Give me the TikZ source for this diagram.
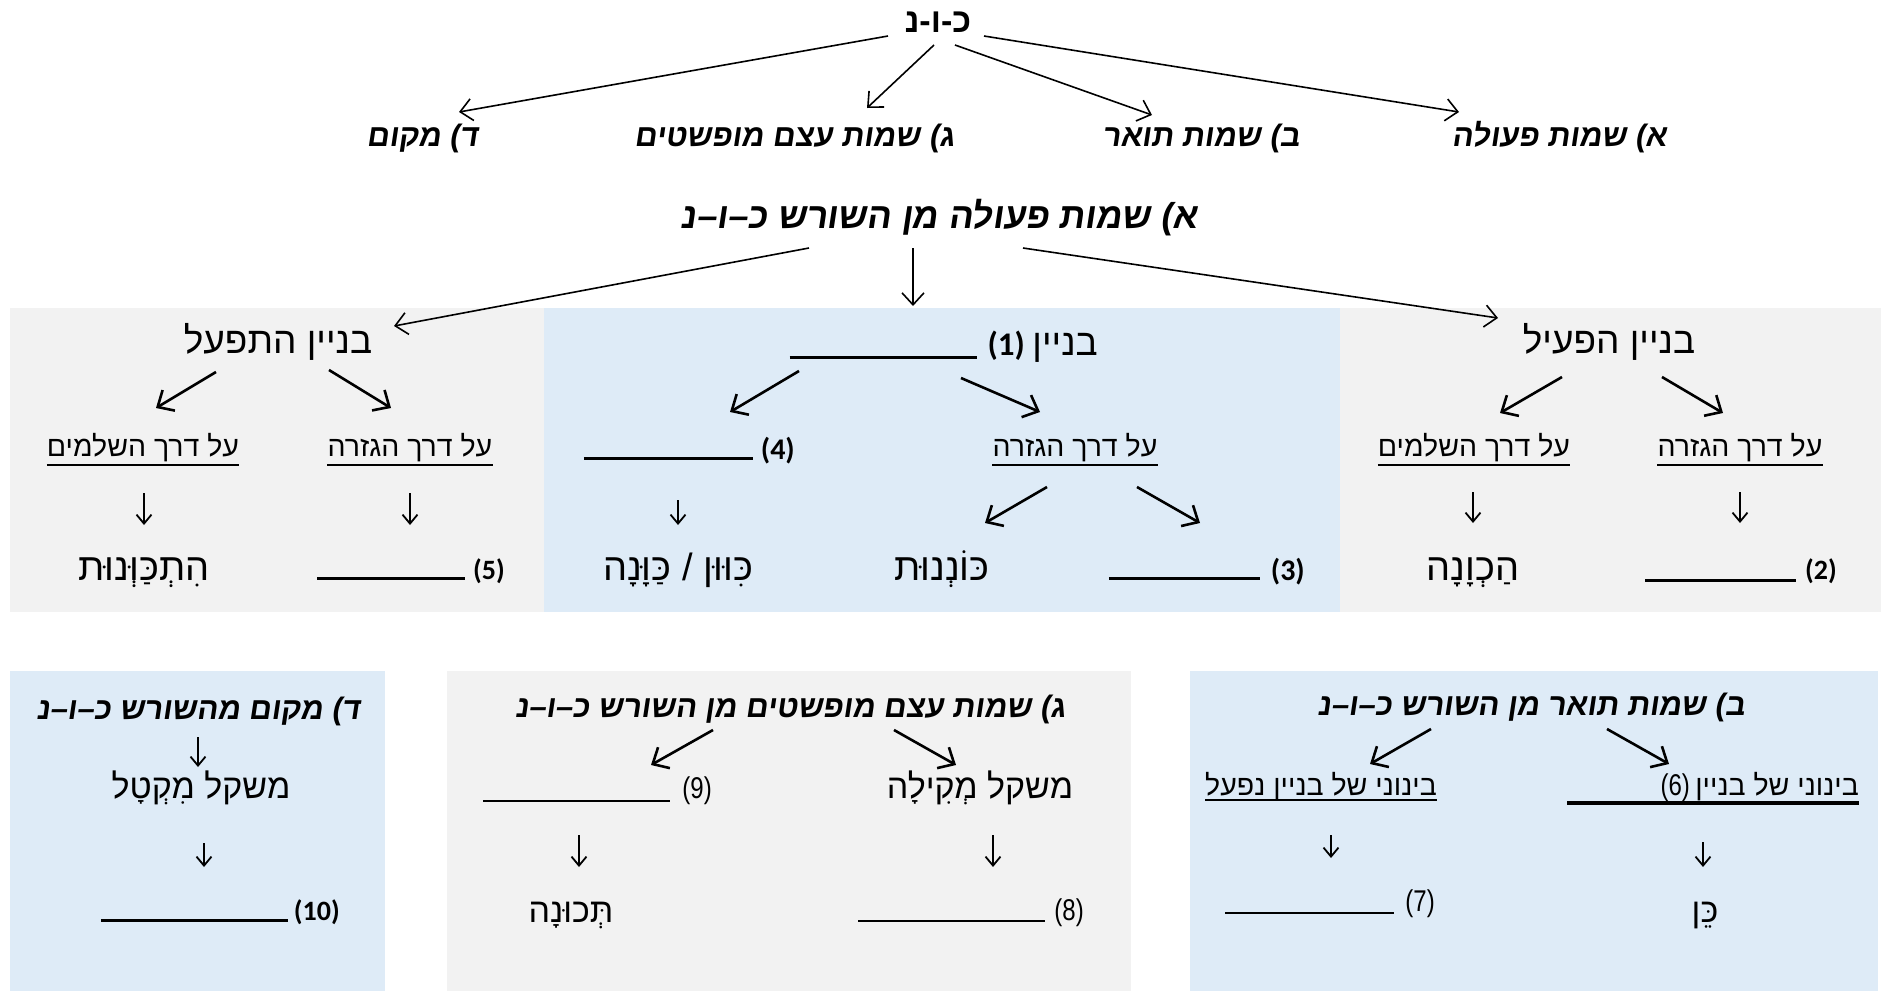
\documentclass[tikz,border=0pt]{standalone}
\usepackage{fontspec}
\usetikzlibrary{arrows.meta,calc}
\TeXXeTstate=1
\newfontfamily\heb[Script=Hebrew]{Liberation Sans}
\newfontfamily\curs[Script=Hebrew,FakeSlant=0.15]{Liberation Sans}
\newfontfamily\numf{Carlito}
\newfontfamily\narf[FakeStretch=0.8]{Liberation Sans}
\newcommand\rtl[1]{\beginR #1\endR}
\definecolor{pgray}{HTML}{F2F2F2}
\definecolor{pblue}{HTML}{DEEBF7}
\tikzset{
  txt/.style={inner sep=0pt, anchor=base, font=\heb\fontsize{28.5}{34}\selectfont},
  big/.style={txt, font=\heb\fontsize{34}{40}\selectfont},
  res/.style={txt, font=\heb\fontsize{38}{44}\selectfont},
  head/.style={txt, font=\heb\fontsize{37}{44}\selectfont},
  cur/.style={inner sep=0pt, anchor=base, font=\curs\bfseries\fontsize{31}{36}\selectfont},
  num/.style={inner sep=0pt, anchor=base east, font=\numf\bfseries\fontsize{28}{32}\selectfont},
  nnum/.style={inner sep=0pt, anchor=base east, font=\narf\fontsize{30}{34}\selectfont},
  topar/.style={line width=1.6pt, -{Straight Barb[length=12pt,width=22pt,line width=1.6pt]}},
  midar/.style={line width=2.6pt, -{Straight Barb[length=13pt,width=24pt,line width=2.6pt]}},
  dn/.style={line width=1.8pt, -{Straight Barb[length=9pt,width=15pt,line width=1.8pt]}},
  ul/.style={line width=2pt}
}
\begin{document}
\begin{tikzpicture}[x=1pt,y=-1pt]
\useasboundingbox (0,0) rectangle (1881,991);
\fill[white] (0,0) rectangle (1881,991);
% panels
\fill[pgray] (10,308) rectangle (544,612);
\fill[pblue] (544,308) rectangle (1340,612);
\fill[pgray] (1340,308) rectangle (1881,612);
\fill[pblue] (10,671) rectangle (385,991);
\fill[pgray] (447,671) rectangle (1131,991);
\fill[pblue] (1190,671) rectangle (1878,991);

% top level
\node[txt, font=\heb\bfseries\fontsize{34}{40}\selectfont] (root) at (938,32) {\rtl{כ-ו-נ}};
\node[cur] (ta) at (1559,146) {\rtl{א) שמות פעולה}};
\node[cur] (tb) at (1201,146) {\rtl{ב) שמות תואר}};
\node[cur] (tc) at (794,146) {\rtl{ג) שמות עצם מופשטים}};
\node[cur] (td) at (422,146) {\rtl{ד) מקום}};
\draw[topar] ($(root.base)+(-50,4)$) -- ($(td.base)+(37,-34)$);
\draw[topar] ($(root.base)+(-4,13)$) -- ($(tc.base)+(73,-38)$);
\draw[topar] ($(root.base)+(17,13)$) -- ($(tb.base)+(-49,-31)$);
\draw[topar] ($(root.base)+(46,4)$) -- ($(ta.base)+(-100,-34)$);

% second title
\node[cur, font=\curs\bfseries\fontsize{36}{40}\selectfont] (pt) at (939,228) {\rtl{א) שמות פעולה מן השורש כ–ו–נ}};

% left panel
\node[head] (lt) at (278,353) {\rtl{בניין התפעל}};
\node[txt] (l1) at (143,456) {\rtl{על דרך השלמים}};
\node[txt] (l2) at (410,456) {\rtl{על דרך הגזרה}};
\draw[ul] ($(l1.base west)+(0,9)$) -- ($(l1.base east)+(0,9)$);
\draw[ul] ($(l2.base west)+(0,9)$) -- ($(l2.base east)+(0,9)$);
\draw[midar] ($(lt.base)+(-62,19)$) -- ($(l1.base)+(13,-48)$);
\draw[midar] ($(lt.base)+(51,17)$) -- ($(l2.base)+(-19,-48)$);
\node[res] (l1r) at (144,580) {\rtl{הִתְכַּוְּנוּת}};
\node[num] (l2r) at (505,579) {\rule[-1pt]{148pt}{3pt}\hspace{8pt}(5)};
\draw[dn] ($(l1r.base)+(0,-87)$) -- ($(l1r.base)+(0,-55)$);
\draw[dn] ($(l2.base)+(0,37)$) -- ($(l2.base)+(0,69)$);

% middle panel
\node[head, anchor=base east] (mt) at (1098,355) {\rtl{בניין}};
\node[num, font=\numf\bfseries\fontsize{33}{36}\selectfont] (m1) at (1025,355) {\rule[-4pt]{187pt}{3pt}\hspace{11pt}(1)};
\node[num, font=\numf\bfseries\fontsize{30}{34}\selectfont] (m4) at (795,459) {\rule[-1pt]{169pt}{3pt}\hspace{8pt}(4)};
\node[txt] (m2) at (1075,456) {\rtl{על דרך הגזרה}};
\draw[ul] ($(m2.base west)+(0,9)$) -- ($(m2.base east)+(0,9)$);
\draw[midar] ($(m1.base east)+(-226,16)$) -- ($(m4.base east)+(-65,-47)$);
\draw[midar] ($(m1.base east)+(-64,23)$) -- ($(m2.base)+(-35,-44)$);
\node[res] (m4r) at (678,580) {\rtl{כִּוּוּן / כַּוָּנָה}};
\node[res] (m3a) at (942,580) {\rtl{כּוֹנְנוּת}};
\node[num, font=\numf\bfseries\fontsize{30}{34}\selectfont] (m3b) at (1305,580) {\rule[0pt]{151pt}{3pt}\hspace{11pt}(3)};
\draw[midar] ($(m2.base)+(-28,31)$) -- ($(m3a.base)+(43,-57)$);
\draw[midar] ($(m2.base)+(62,31)$) -- ($(m3b.base east)+(-105,-57)$);
\draw[dn] ($(m4r.base)+(0,-80)$) -- ($(m4r.base)+(0,-55)$);

% right panel
\node[head] (rt) at (1609,353) {\rtl{בניין הפעיל}};
\node[txt] (r1) at (1474,456) {\rtl{על דרך השלמים}};
\node[txt] (r2) at (1740,456) {\rtl{על דרך הגזרה}};
\draw[ul] ($(r1.base west)+(0,9)$) -- ($(r1.base east)+(0,9)$);
\draw[ul] ($(r2.base west)+(0,9)$) -- ($(r2.base east)+(0,9)$);
\draw[midar] ($(rt.base)+(-47,24)$) -- ($(r1.base)+(26,-43)$);
\draw[midar] ($(rt.base)+(53,24)$) -- ($(r2.base)+(-17,-43)$);
\node[res] (r1r) at (1473,580) {\rtl{הַכְוָנָה}};
\node[num] (r2r) at (1837,579) {\rule[-3pt]{151pt}{3pt}\hspace{9pt}(2)};
\draw[dn] ($(r1r.base)+(0,-88)$) -- ($(r1r.base)+(0,-57)$);
\draw[dn] ($(r2.base)+(0,36)$) -- ($(r2.base)+(0,67)$);

% arrows from second title
\draw[topar] ($(pt.base)+(-130,20)$) -- ($(lt.base)+(116,-27)$);
\draw[topar] ($(pt.base)+(-26,20)$) -- ($(pt.base)+(-26,78)$);
\draw[topar] ($(pt.base)+(84,20)$) -- ($(rt.base)+(-111,-35)$);

% bottom left
\node[cur] (bd) at (198,719) {\rtl{ד) מקום מהשורש כ–ו–נ}};
\node[big] (bd1) at (201,798) {\rtl{משקל מִקְטָל}};
\node[num] (bd2) at (340,920) {\rule[-2pt]{187pt}{3pt}\hspace{6pt}(10)};
\draw[dn] ($(bd.base)+(0,18)$) -- ($(bd.base)+(0,48)$);
\draw[dn] ($(bd1.base)+(3,45)$) -- ($(bd1.base)+(3,69)$);

% bottom middle
\node[cur] (bc) at (790,717) {\rtl{ג) שמות עצם מופשטים מן השורש כ–ו–נ}};
\node[nnum] (bc1) at (712,798) {\rule[-4pt]{187pt}{2.5pt}\hspace{12pt}(9)};
\node[big] (bc2) at (980,798) {\rtl{משקל מְקִילָה}};
\draw[midar] ($(bc.base)+(-77,13)$) -- ($(bc1.base east)+(-61,-33)$);
\draw[midar] ($(bc.base)+(104,13)$) -- ($(bc2.base)+(-24,-33)$);
\node[big] (bc1r) at (571,922) {\rtl{תְּכוּנָה}};
\node[nnum] (bc2r) at (1084,920) {\rule[-2pt]{187pt}{2.5pt}\hspace{9pt}(8)};
\draw[dn] ($(bc1r.base)+(8,-87)$) -- ($(bc1r.base)+(8,-55)$);
\draw[dn] ($(bc2.base)+(13,37)$) -- ($(bc2.base)+(13,69)$);

% bottom right
\node[cur] (bb) at (1531,715) {\rtl{ב) שמות תואר מן השורש כ–ו–נ}};
\node[txt] (bb1) at (1321,795) {\rtl{בינוני של בניין נפעל}};
\draw[ul] ($(bb1.base west)+(0,5)$) -- ($(bb1.base east)+(0,5)$);
\node[txt, anchor=base east] (bb2) at (1859,795) {\rtl{בינוני של בניין}};
\node[nnum] (bb6) at ($(bb2.base west)+(-5,0)$) {(6)};
\draw[line width=4pt] (1567,803) -- ($(bb2.base east)+(0,8)$);
\draw[midar] ($(bb.base)+(-100,14)$) -- ($(bb1.base)+(49,-31)$);
\draw[midar] ($(bb.base)+(76,14)$) -- ($(bb2.base east)+(-190,-31)$);
\node[nnum] (bb1r) at (1435,911) {\rule[-3pt]{169pt}{2.5pt}\hspace{11pt}(7)};
\node[big] (bb2r) at (1705,922) {\rtl{כֵּן}};
\draw[dn] ($(bb1.base)+(10,40)$) -- ($(bb1.base)+(10,63)$);
\draw[dn] ($(bb2r.base)+(-2,-80)$) -- ($(bb2r.base)+(-2,-55)$);
\end{tikzpicture}
\end{document}
